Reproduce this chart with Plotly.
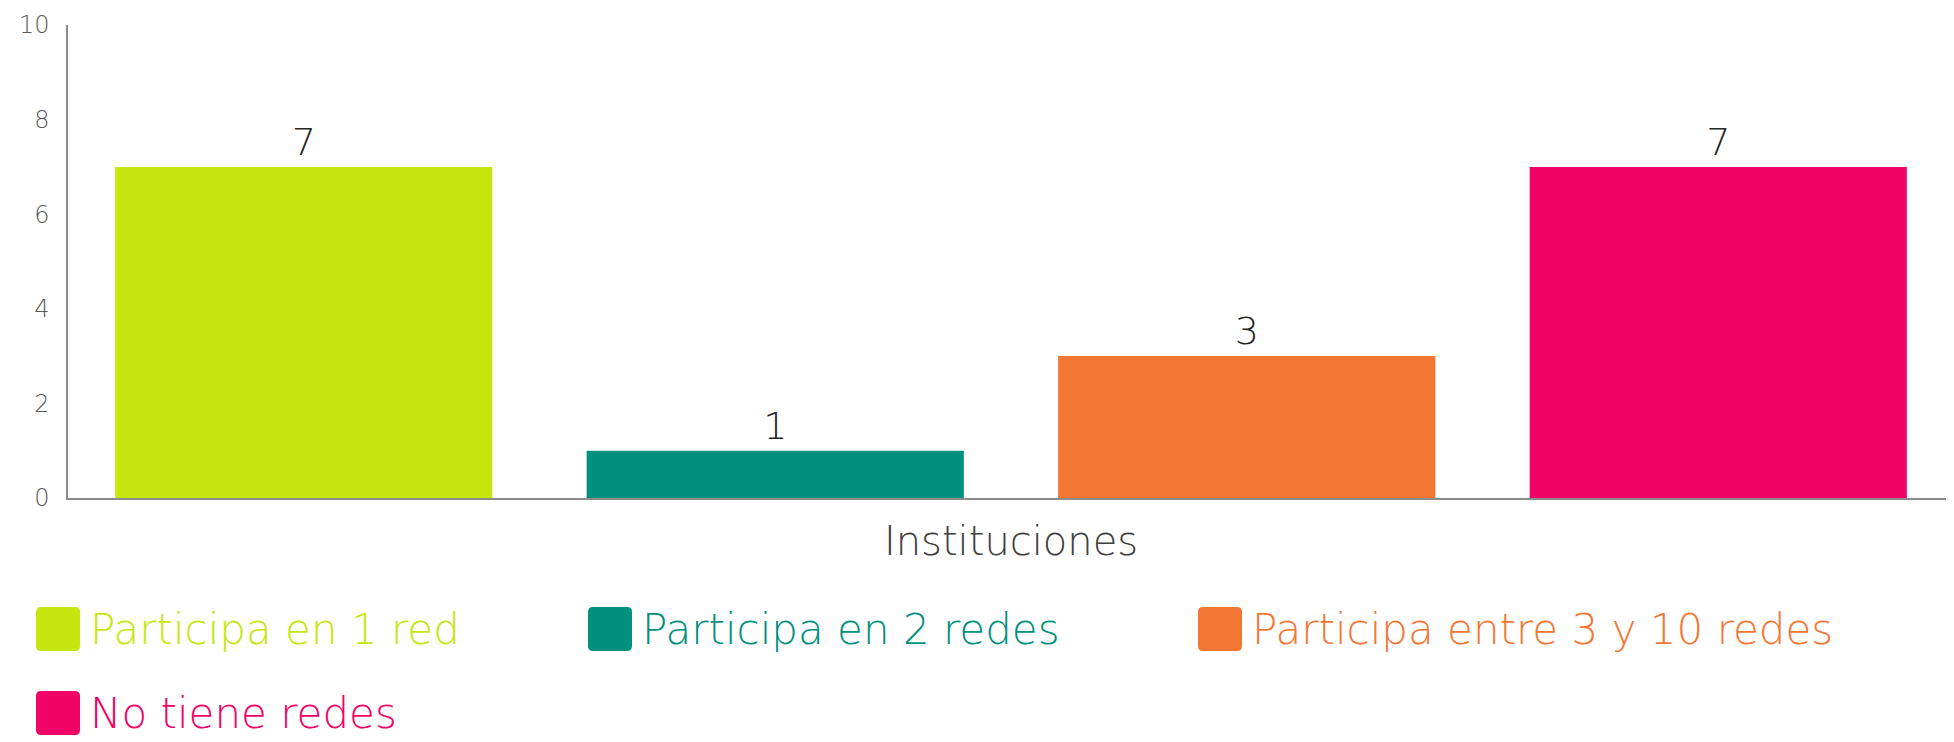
import plotly.graph_objects as go

categories = ["Instituciones"]
series_names = ["Participa en 1 red", "Participa en 2 redes", "Participa entre 3 y 10 redes", "No tiene redes"]
values = [7, 1, 3, 7]
colors = ["#C5E70F", "#00907D", "#F47635", "#F20367"]
y_ticks = [0, 2, 4, 6, 8, 10]

# page body has an 8px margin: the figure starts at (8, 8)
OFF = 8
W, H = 1954 - OFF, 742 - OFF
ML, MR, MT, MB = 68 - OFF, 0, 25 - OFF, 244
FONT = "DejaVu Sans"

fig = go.Figure()
for name, v, c in zip(series_names, values, colors):
    fig.add_trace(go.Bar(
        x=categories, y=[v], name=name, marker=dict(color=c, line=dict(width=0)),
        text=[v], textposition="outside", texttemplate="%{y}",
        textfont=dict(family=FONT, size=38, color="#262626", weight=200),
        cliponaxis=False, showlegend=False,
    ))

# custom legend (positions given in page pixels)
pw, ph = W - ML - MR, H - MT - MB
def px2x(px):
    return (px - OFF - ML) / pw
def py2y(py):
    return (H - MB - (py - OFF)) / ph

def rounded_rect(x0, y0, x1, y1, r):
    return (f"M{px2x(x0 + r)},{py2y(y0)} L{px2x(x1 - r)},{py2y(y0)} "
            f"Q{px2x(x1)},{py2y(y0)} {px2x(x1)},{py2y(y0 + r)} "
            f"L{px2x(x1)},{py2y(y1 - r)} Q{px2x(x1)},{py2y(y1)} {px2x(x1 - r)},{py2y(y1)} "
            f"L{px2x(x0 + r)},{py2y(y1)} Q{px2x(x0)},{py2y(y1)} {px2x(x0)},{py2y(y1 - r)} "
            f"L{px2x(x0)},{py2y(y0 + r)} Q{px2x(x0)},{py2y(y0)} {px2x(x0 + r)},{py2y(y0)} Z")

legend_pos = [(36, 629), (588, 629), (1198, 629), (36, 713)]
for (lx, ly), name, c in zip(legend_pos, series_names, colors):
    fig.add_shape(type="path", xref="paper", yref="paper",
                  path=rounded_rect(lx, ly - 22, lx + 44, ly + 22, 5),
                  fillcolor=c, line=dict(width=0))
    fig.add_annotation(x=px2x(lx + 52), y=py2y(ly), xref="paper", yref="paper",
                       text=name, showarrow=False, xanchor="left", yanchor="middle",
                       font=dict(family=FONT, size=42, color=c, weight=200))

fig.update_layout(
    width=W, height=H,
    margin=dict(l=ML, r=MR, t=MT, b=MB, pad=0),
    paper_bgcolor="white", plot_bgcolor="white",
    barmode="group", bargap=0, bargroupgap=0.2,
    showlegend=False,
    font=dict(family=FONT, color="#404040"),
    xaxis=dict(showline=True, linecolor="#8C8C8C", linewidth=2, showgrid=False,
               ticks="", tickfont=dict(family=FONT, size=40, color="#404040", weight=200),
               ticklabelstandoff=7, fixedrange=True),
    yaxis=dict(range=[0, 10], tickvals=y_ticks, showline=True, linecolor="#8C8C8C",
               linewidth=1.5, showgrid=False, zeroline=False, ticks="",
               tickfont=dict(family=FONT, size=24, color="#595959", weight=200),
               ticklabelstandoff=12),
)

fig.write_html("out.html")
